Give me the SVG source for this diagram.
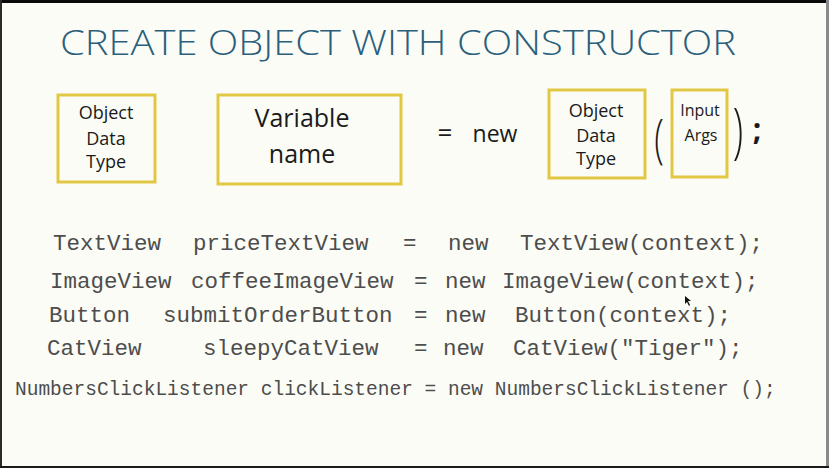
<svg xmlns="http://www.w3.org/2000/svg" width="829" height="468" viewBox="0 0 829 468">
<style>
.box{fill:none;stroke:#e2c744;stroke-width:3}
.hand{font-family:"Open Sans","DejaVu Sans",sans-serif;fill:#1a1a1a;text-anchor:middle}
.code{font-family:"Liberation Mono","DejaVu Sans Mono",monospace;fill:#4d4d4d;font-size:22.5px}
.code.small{font-size:19.5px}
.title{font-family:"Open Sans","DejaVu Sans",sans-serif;fill:#2b5f7c;font-size:34px;font-weight:300}
</style>
<rect x="0" y="0" width="829" height="468" fill="#fbfcf6"/>
<rect x="0" y="0" width="829" height="3" fill="#0a0a0a"/>
<rect x="0" y="0" width="2" height="468" fill="#2a2a2a"/>
<rect x="826" y="0" width="3" height="468" fill="#8a8a8a"/>
<rect x="0" y="466" width="829" height="2" fill="#1a1a1a"/>

<g id="title">
<text class="title" x="60" y="55" textLength="676" lengthAdjust="spacingAndGlyphs">CREATE OBJECT WITH CONSTRUCTOR</text>
</g>

<g id="type-box">
<rect class="box" x="58" y="95" width="97" height="87"/>
<text class="hand" x="106" y="119" font-size="18">Object</text>
<text class="hand" x="106" y="145" font-size="18">Data</text>
<text class="hand" x="106" y="168" font-size="18">Type</text>
</g>

<g id="name-box">
<rect class="box" x="218" y="95" width="183" height="89"/>
<text class="hand" x="302" y="127" font-size="25">Variable</text>
<text class="hand" x="302" y="163" font-size="25">name</text>
</g>

<g id="equals-new">
<text class="hand" x="445" y="142" font-size="26">=</text>
<text class="hand" x="495" y="142" font-size="23">new</text>
</g>

<g id="ctor-box">
<rect class="box" x="549" y="90" width="96" height="88"/>
<text class="hand" x="596" y="117" font-size="18">Object</text>
<text class="hand" x="596" y="142" font-size="18">Data</text>
<text class="hand" x="596" y="165" font-size="18">Type</text>
</g>

<g id="open-paren">
<text class="hand" font-size="44" font-weight="300" transform="translate(659,157) scale(0.8,1.2)">(</text>
</g>

<g id="args-box">
<rect class="box" x="672" y="90" width="55" height="87"/>
<text class="hand" x="700" y="116" font-size="16">Input</text>
<text class="hand" x="701" y="141" font-size="16">Args</text>
</g>

<g id="close-paren">
<text class="hand" font-size="48" font-weight="300" transform="translate(738,152) scale(0.8,1.25)">)</text>
<text class="hand" x="757" y="140" font-size="30" font-weight="700">;</text>
</g>

<g id="code">
<text class="code" y="250"><tspan x="53">TextView</tspan><tspan x="193">priceTextView</tspan><tspan x="403">=</tspan><tspan x="448">new</tspan><tspan x="520">TextView(context);</tspan></text>
<text class="code" y="288"><tspan x="50">ImageView</tspan><tspan x="191">coffeeImageView</tspan><tspan x="414">=</tspan><tspan x="445">new</tspan><tspan x="502">ImageView(context);</tspan></text>
<text class="code" y="322"><tspan x="49">Button</tspan><tspan x="163">submitOrderButton</tspan><tspan x="414">=</tspan><tspan x="445">new</tspan><tspan x="515">Button(context);</tspan></text>
<text class="code" y="355"><tspan x="47">CatView</tspan><tspan x="203">sleepyCatView</tspan><tspan x="414">=</tspan><tspan x="443">new</tspan><tspan x="513">CatView("Tiger");</tspan></text>
<text class="code small" x="15" y="395">NumbersClickListener clickListener = new NumbersClickListener ();</text>
</g>

<g id="cursor">
<polygon points="685,296 685,304 687,302 689,306 690,305 688,301 691,301" fill="#111"/>
</g>
</svg>
